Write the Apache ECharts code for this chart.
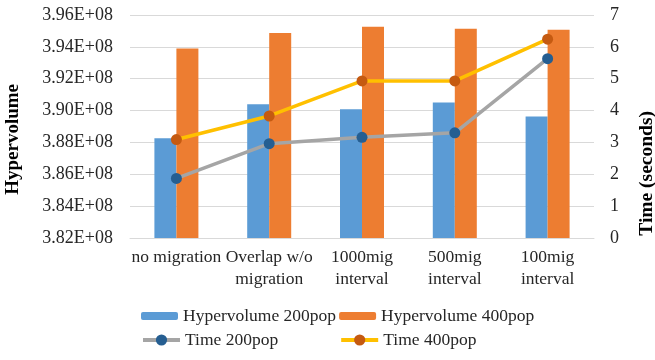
<!DOCTYPE html>
<html>
<head>
<meta charset="utf-8">
<script src="https://cdn.jsdelivr.net/npm/echarts@6/dist/echarts.min.js"></script>
<style>html,body{margin:0;padding:0;background:#fff;}#c{width:655px;height:360px;}</style>
</head>
<body>
<div id="c"></div>
<script>
var categories = ["no migration", "Overlap w/o\nmigration", "1000mig\ninterval", "500mig\ninterval", "100mig\ninterval"];
var hv200 = [388270000, 390400000, 390090000, 390500000, 389620000];
var hv400 = [393890000, 394870000, 395270000, 395140000, 395080000];
var time200 = [1.87, 2.96, 3.16, 3.30, 5.63];
var time400 = [3.09, 3.83, 4.93, 4.93, 6.24];
var hvTicks = {min: 382000000, max: 396000000, interval: 2000000};
var timeTicks = {min: 0, max: 7, interval: 1};

var FONT = "'Liberation Serif', 'Times New Roman', serif";
var chart = echarts.init(document.getElementById('c'), null, {renderer: 'canvas'});
chart.setOption({
  animation: false,
  backgroundColor: '#fff',
  textStyle: {fontFamily: FONT},
  grid: {left: 130, right: 61, top: 15, bottom: 122},
  legend: [
    {
      data: ['Hypervolume 200pop', 'Hypervolume 400pop'],
      left: 136, top: 302, itemWidth: 37, itemHeight: 8, itemGap: 3,
      textStyle: {fontFamily: FONT, fontSize: 17.5, color: '#262626'}
    },
    {
      data: ['Time 200pop', 'Time 400pop'],
      left: 136, top: 326, itemWidth: 37, itemHeight: 14, itemGap: 61,
      lineStyle: {width: 4},
      textStyle: {fontFamily: FONT, fontSize: 17.5, color: '#262626'}
    }
  ],
  xAxis: {
    type: 'category', data: categories,
    axisTick: {show: false},
    axisLine: {lineStyle: {color: '#D9D9D9'}},
    axisLabel: {fontFamily: FONT, fontSize: 17.5, color: '#262626', lineHeight: 22, margin: 8, interval: 0}
  },
  yAxis: [
    {
      type: 'value', min: hvTicks.min, max: hvTicks.max, interval: hvTicks.interval,
      axisLine: {show: false}, axisTick: {show: false},
      splitLine: {lineStyle: {color: '#D9D9D9', width: 1}},
      axisLabel: {fontFamily: FONT, fontSize: 18, color: '#262626', margin: 17,
        formatter: function (v) { return (v / 1e8).toFixed(2) + 'E+08'; }}
    },
    {
      type: 'value', min: timeTicks.min, max: timeTicks.max, interval: timeTicks.interval,
      axisLine: {show: false}, axisTick: {show: false}, splitLine: {show: false},
      axisLabel: {fontFamily: FONT, fontSize: 18, color: '#262626', margin: 16}
    }
  ],
  graphic: [
    {type: 'text', left: 4, top: 84, rotation: Math.PI / 2,
      style: {text: 'Hypervolume', font: "bold 19px 'Liberation Serif', serif", fill: '#000'}},
    {type: 'text', left: 637, top: 111, rotation: Math.PI / 2,
      style: {text: 'Time (seconds)', font: "bold 19.5px 'Liberation Serif', serif", fill: '#000'}}
  ],
  series: [
    {name: 'Hypervolume 200pop', type: 'bar', data: hv200, barWidth: 22, barGap: '0%',
      itemStyle: {color: '#5B9BD5'}},
    {name: 'Hypervolume 400pop', type: 'bar', data: hv400, barWidth: 22, barGap: '0%',
      itemStyle: {color: '#ED7D31'}},
    {name: 'Time 200pop', type: 'line', yAxisIndex: 1, data: time200,
      symbol: 'circle', symbolSize: 11,
      lineStyle: {color: '#A5A5A5', width: 3.5},
      itemStyle: {color: '#255E91', borderWidth: 0}},
    {name: 'Time 400pop', type: 'line', yAxisIndex: 1, data: time400,
      symbol: 'circle', symbolSize: 11,
      lineStyle: {color: '#FFC000', width: 3.5},
      itemStyle: {color: '#C55A11', borderWidth: 0}}
  ]
});
</script>
</body>
</html>
